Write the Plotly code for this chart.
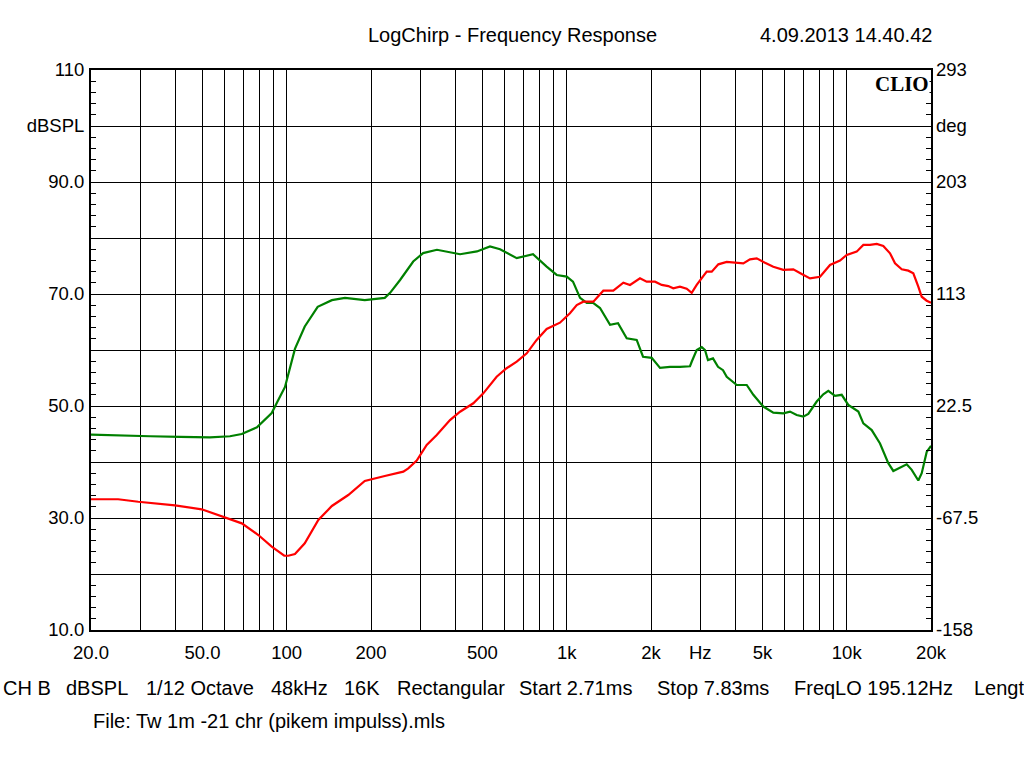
import plotly.graph_objects as go

# ---- data ----
spl_freq = [20.0, 25.4, 32.5, 41.6, 53.2, 62.7, 69.1, 78.3, 88.4, 93.1, 98.6, 107, 116, 129, 145, 161.5,
            190, 224, 234, 254, 283, 307, 344, 416, 478, 532, 578, 663, 758, 848, 921, 1000, 1053,
            1116, 1179, 1242, 1315, 1428, 1525, 1638, 1778, 1873, 2012, 2154, 2338, 2538, 2756, 2795,
            2912, 3036, 3118, 3195, 3330, 3470, 3616, 3728, 4048, 4395, 4640, 5036, 5468, 5937, 6272,
            6627, 6998, 7292, 7814, 8250, 8596, 9082, 9598, 10130, 11004, 11464, 12282, 13150, 14078,
            14670, 15502, 16380, 17068, 18018, 18530, 19304, 20000]
spl_db = [44.9, 44.7, 44.6, 44.5, 44.4, 44.6, 45.0, 46.2, 48.75, 51.0, 53.4, 60.2, 64.2, 67.7, 68.9, 69.3,
          68.9, 69.3, 70.2, 72.5, 75.8, 77.3, 77.9, 77.1, 77.6, 78.5, 78.0, 76.4, 77.1, 74.9, 73.4, 73.1, 72.2,
          69.3, 68.4, 68.4, 67.5, 64.5, 64.8, 62.1, 61.8, 58.8, 58.6, 56.8, 57.0, 57.0, 57.1, 57.9,
          60.0, 60.5, 60.0, 58.2, 58.5, 57.0, 56.4, 55.2, 53.75, 53.75, 52.0, 49.9, 48.8, 48.7, 49.0,
          48.4, 48.1, 48.6, 50.8, 52.1, 52.7, 51.8, 52.0, 50.2, 49.0, 46.9, 45.7, 43.3, 39.8,
          38.4, 39.05, 39.6, 38.6, 36.7, 38.0, 41.8, 42.9]

phase_freq = [20.0, 25.0, 29.5, 34.8, 39.9, 49.7, 59.4, 69.1, 79.2, 88.4, 98.0, 101.3, 107, 116, 129.7,
              145, 165.9, 190, 224, 260.9, 271.8, 291.3, 316.2, 343.4, 383, 416, 464, 503.6, 562, 610,
              663, 720, 781, 848, 946, 1027, 1086, 1146, 1245, 1351, 1467, 1593, 1683, 1827, 1930,
              2067, 2184, 2306, 2402, 2538, 2682, 2795, 2912, 3036, 3162, 3296, 3480, 3728, 3991, 4273,
              4514, 4770, 5107, 5468, 5937, 6446, 6908, 7396, 8029, 8717, 9464, 10000, 10854, 11464,
              12108, 12800, 13510, 14278, 14877, 15720, 16594, 17294, 18018, 18530, 19304, 20000]
phase_deg = [-52.7, -52.7, -54.7, -56.0, -57.6, -60.8, -66.7, -72.1, -81.5, -90.9, -98.2, -98.2, -96.8, -88.2, -69.4,
             -58.1, -49.3, -38.0, -34.0, -30.5, -27.8, -21.6, -9.0, -0.9, 11.1, 17.8, 24.6, 32.6, 46.0, 52.8,
             58.1, 64.8, 75.6, 84.4, 89.5, 97.1, 103.7, 106.4, 106.4, 115.3, 115.3, 121.7, 119.9, 125.2, 122.5,
             122.5, 119.9, 119.0, 117.2, 118.5, 116.9, 113.6, 119.9, 125.2, 130.6, 130.6, 136.5, 138.4, 137.8, 137.3,
             140.5, 141.3, 137.8, 134.6, 132.0, 132.5, 128.7, 125.2, 126.5, 136.0, 139.5, 144.0, 146.7, 152.1,
             152.1, 152.9, 151.3, 145.4, 137.3, 132.5, 131.4, 129.3, 118.5, 110.4, 107.2, 105.6]

x_grid = [20, 30, 40, 50, 60, 70, 80, 90, 100, 200, 300, 400, 500, 600, 700, 800, 900,
          1000, 2000, 3000, 4000, 5000, 6000, 7000, 8000, 9000, 10000, 20000]
x_labels = {20: "20.0", 50: "50.0", 100: "100", 200: "200", 500: "500", 1000: "1k",
            2000: "2k", 3000: "Hz", 5000: "5k", 10000: "10k", 20000: "20k"}
y_ticks = [10, 20, 30, 40, 50, 60, 70, 80, 90, 100, 110]
y_labels = ["10.0", "", "30.0", "", "50.0", "", "70.0", "", "90.0", "dBSPL", "110"]
y2_ticks = [-158, -67.5, 22.5, 113, 203, 248, 293]
y2_labels = ["-158", "-67.5", "22.5", "113", "203", "deg", "293"]

info_fields = ["CH B", "dBSPL", "1/12 Octave", "48kHz", "16K", "Rectangular",
               "Start 2.71ms", "Stop 7.83ms", "FreqLO 195.12Hz", "Length 5.12ms"]
info_x = [1, 64, 144, 269, 342, 395, 517, 655, 792, 972]

FONT = "Liberation Sans, Arial, sans-serif"
L, R, T, B = 91, 931, 70, 630
W, H = 1024, 768


def px(x):
    return (x - L) / (R - L)


def py(y):
    return (B - y) / (B - T)


fig = go.Figure()
fig.add_trace(go.Scatter(x=spl_freq, y=spl_db, mode="lines",
                         line=dict(color="#008000", width=2.2), yaxis="y"))
fig.add_trace(go.Scatter(x=phase_freq, y=phase_deg, mode="lines",
                         line=dict(color="#ff0000", width=2.2), yaxis="y2"))

fig.update_layout(
    width=W, height=H,
    margin=dict(l=L, r=W - R, t=T, b=H - B, pad=0),
    paper_bgcolor="white", plot_bgcolor="white",
    showlegend=False,
    font=dict(family=FONT, size=18, color="black"),
    xaxis=dict(type="log", range=[1.30103, 4.30103],
               tickmode="array", tickvals=x_grid,
               ticktext=[x_labels.get(v, "") for v in x_grid],
               showgrid=True, gridcolor="black", gridwidth=1,
               showline=True, linecolor="black", linewidth=2, mirror=True,
               ticks="", zeroline=False, ticklabelstandoff=5,
               tickfont=dict(family=FONT, size=18.5, color="black")),
    yaxis=dict(range=[10, 110], tickmode="array", tickvals=y_ticks, ticktext=y_labels,
               showgrid=True, gridcolor="black", gridwidth=1,
               showline=True, linecolor="black", linewidth=2, mirror="allticks",
               ticks="inside", ticklen=0, tickcolor="black", zeroline=False,
               minor=dict(tickmode="linear", tick0=10, dtick=2, ticks="inside",
                          ticklen=5, tickcolor="black", tickwidth=1, showgrid=False),
               ticklabelstandoff=1,
               tickfont=dict(family=FONT, size=18.5, color="black")),
    yaxis2=dict(range=[-158, 293], overlaying="y", side="right",
                tickmode="array", tickvals=y2_ticks, ticktext=y2_labels,
                showgrid=False, showline=False, ticks="", zeroline=False,
                ticklabelstandoff=4,
                tickfont=dict(family=FONT, size=18.5, color="black")),
)

ann = [
    dict(text="LogChirp - Frequency Response", x=px(512), y=py(35), xanchor="center", yanchor="middle"),
    dict(text="4.09.2013 14.40.42", x=px(934), y=py(35), xanchor="right", yanchor="middle"),
    dict(text="File: Tw 1m -21 chr (pikem impulss).mls", x=px(91), y=py(721), xanchor="left", yanchor="middle"),
]
for t, xx in zip(info_fields, info_x):
    ann.append(dict(text=t, x=px(xx), y=py(688), xanchor="left", yanchor="middle"))
for a in ann:
    a.update(xref="paper", yref="paper", showarrow=False,
             font=dict(family=FONT, size=20, color="black"))
    fig.add_annotation(**a)

fig.add_annotation(text="<b>CLIO</b>", xref="paper", yref="paper", x=px(930), y=py(71),
                   xanchor="right", yanchor="top", showarrow=False, bgcolor="white",
                   borderpad=0,
                   font=dict(family="Liberation Serif, Times New Roman, serif", size=21, color="black"))

fig.write_html("out.html")
